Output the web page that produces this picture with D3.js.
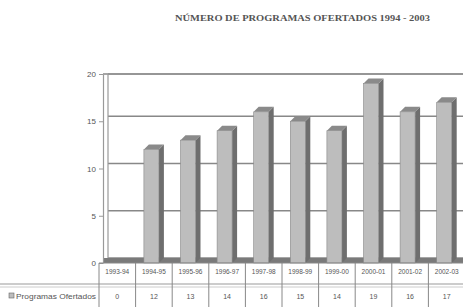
<!DOCTYPE html>
<html>
<head>
<meta charset="utf-8">
<script src="https://cdn.jsdelivr.net/npm/d3@7"></script>
<style>
  body { margin: 0; background: #fff; }
  svg { display: block; font-family: 'Liberation Sans', Arial, sans-serif; }
</style>
</head>
<body>
<svg id="chart" width="463" height="307"></svg>
<script>
// data
const categories = ['1993-94', '1994-95', '1995-96', '1996-97', '1997-98',
  '1998-99', '1999-00', '2000-01', '2001-02', '2002-03'];
const programas = [0, 12, 13, 14, 16, 15, 14, 19, 16, 17];
const yTicks = [0, 5, 10, 15, 20];
const seriesLabel = 'Programas Ofertados';
const title = 'NÚMERO DE PROGRAMAS OFERTADOS 1994 - 2003';

const svg = d3.select('#chart');
const depth = 5;

// scales
const x = d3.scaleBand().domain(categories).range([99, 465]);
const y = d3.scaleLinear().domain([0, 20]).range([263, 74]);

// title
svg.append('text')
  .attr('x', 175).attr('y', 21)
  .attr('textLength', 255)
  .attr('lengthAdjust', 'spacingAndGlyphs')
  .attr('style', 'font-family: "Liberation Serif", serif; font-weight: bold; font-size: 9px; fill: #555')
  .text(title);

// back wall gridlines
yTicks.forEach(t => {
  svg.append('line')
    .attr('x1', 103 + depth).attr('x2', 463)
    .attr('y1', y(t) - depth + (t === 20 ? 5 : 0)).attr('y2', y(t) - depth + (t === 20 ? 5 : 0))
    .attr('stroke', t === 20 ? '#aaa' : '#888').attr('stroke-width', 1.3);
});
svg.append('line')
  .attr('x1', 103).attr('x2', 463).attr('y1', y(20)).attr('y2', y(20))
  .attr('stroke', '#888').attr('stroke-width', 1.5);

// left wall
svg.append('line')
  .attr('x1', 103 + depth).attr('x2', 103 + depth)
  .attr('y1', y(20)).attr('y2', y(0) - depth)
  .attr('stroke', '#999').attr('stroke-width', 1.2);

// floor
svg.append('rect')
  .attr('x', 103).attr('y', y(0) - depth)
  .attr('width', 360).attr('height', depth)
  .attr('fill', '#7a7a7a');

// y axis
svg.append('g')
  .attr('transform', 'translate(103,0)')
  .call(d3.axisLeft(y).tickValues(yTicks).tickSize(4).tickSizeOuter(0))
  .call(g => g.select('.domain').attr('stroke', '#999').attr('stroke-width', 1.2))
  .call(g => g.selectAll('line').attr('stroke', '#999'))
  .call(g => g.selectAll('text').attr('fill', '#555').attr('font-size', 8));

// bars (3D look)
const bars = svg.selectAll('g.bar')
  .data(categories.map((c, i) => ({ cat: c, val: programas[i] })))
  .enter().append('g').attr('class', 'bar');

const fw = 15;
bars.filter(d => d.val > 0).each(function(d) {
  const g = d3.select(this);
  const x0 = x(d.cat) + x.bandwidth() / 2 - 10;
  const yt = y(d.val), yb = y(0);
  g.append('polygon')
    .attr('points', [[x0 + fw, yt], [x0 + fw + depth, yt - depth], [x0 + fw + depth, yb - depth], [x0 + fw, yb]].join(' '))
    .attr('fill', '#6e6e6e');
  g.append('polygon')
    .attr('points', [[x0, yt], [x0 + depth, yt - depth], [x0 + fw + depth, yt - depth], [x0 + fw, yt]].join(' '))
    .attr('fill', '#8a8a8a');
  g.append('rect')
    .attr('x', x0).attr('y', yt).attr('width', fw).attr('height', yb - yt)
    .attr('fill', '#bdbdbd').attr('stroke', '#888').attr('stroke-width', 0.6);
});

// data table
const table = svg.append('g');
table.append('line').attr('x1', 99).attr('x2', 463).attr('y1', 263).attr('y2', 263)
  .attr('stroke', '#888');
table.append('line').attr('x1', 0).attr('x2', 463).attr('y1', 284).attr('y2', 284)
  .attr('stroke', '#999').attr('stroke-width', 1.2);
table.append('line').attr('x1', 0).attr('x2', 463).attr('y1', 287).attr('y2', 287)
  .attr('stroke', '#ccc');

categories.forEach((c, i) => {
  const bx = x(c);
  table.append('line').attr('x1', bx).attr('x2', bx).attr('y1', 263).attr('y2', 307)
    .attr('stroke', '#888');
  table.append('text')
    .attr('x', bx + x.bandwidth() / 2).attr('y', 274)
    .attr('text-anchor', 'middle')
    .attr('font-size', 6.5).attr('fill', '#555')
    .text(c);
  table.append('text')
    .attr('x', bx + x.bandwidth() / 2).attr('y', 299)
    .attr('text-anchor', 'middle')
    .attr('font-size', 7).attr('fill', '#555')
    .text(programas[i]);
});

// legend key in the table
table.append('rect').attr('x', 9).attr('y', 293).attr('width', 5).attr('height', 5)
  .attr('fill', '#bdbdbd').attr('stroke', '#666').attr('stroke-width', 0.6);
table.append('text')
  .attr('x', 16).attr('y', 299)
  .attr('font-size', 7.5).attr('fill', '#555')
  .attr('textLength', 80).attr('lengthAdjust', 'spacingAndGlyphs')
  .text(seriesLabel);
</script>
</body>
</html>
